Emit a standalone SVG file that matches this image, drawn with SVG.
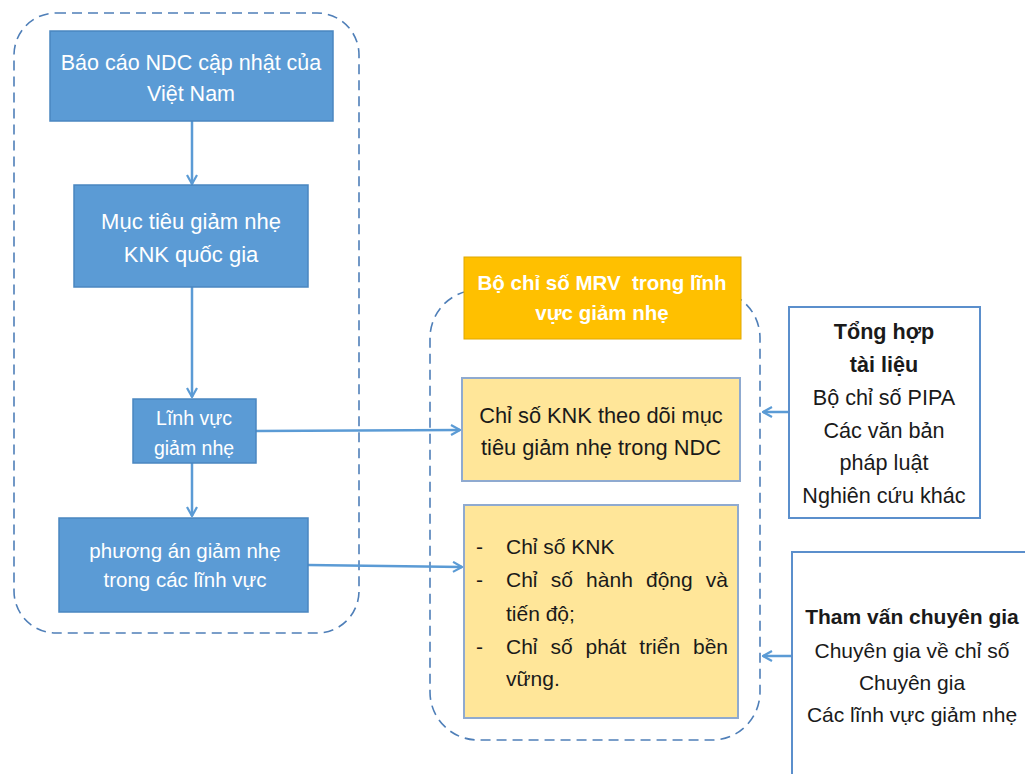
<svg xmlns="http://www.w3.org/2000/svg" width="1025" height="774" viewBox="0 0 1025 774">
  <style>
    text { font-family: "Liberation Sans", Arial, sans-serif; }
    .blue { fill: #5b9bd5; stroke: #4a86c0; stroke-width: 1.5; }
    .orange { fill: #ffc000; stroke: #e0a800; stroke-width: 1; }
    .yellow { fill: #ffe699; stroke: #8faad0; stroke-width: 2; }
    .src { fill: #ffffff; stroke: #5b8fcc; stroke-width: 2; }
    .group { fill: none; stroke: #4f7fb8; stroke-width: 1.6; stroke-dasharray: 10 6; }
    .wt { fill: #ffffff; text-anchor: middle; }
    .bt { fill: #1a1a1a; text-anchor: middle; }
    .conn { stroke: #5b9bd5; stroke-width: 2.5; fill: none; marker-end: url(#arr); }
  </style>
  <defs>
    <marker id="arr" viewBox="0 0 12 12" refX="11" refY="6" markerWidth="12" markerHeight="12" markerUnits="userSpaceOnUse" orient="auto">
      <polyline points="2,1 11,6 2,11" fill="none" stroke="#5b9bd5" stroke-width="2.2"/>
    </marker>
  </defs>

  <rect width="1025" height="774" fill="#ffffff"/>

  <!-- grouping frames -->
  <rect class="group" x="14" y="13" width="345" height="620" rx="42" ry="42"/>
  <rect class="group" x="430" y="290" width="330" height="450" rx="48" ry="48"/>

  <!-- connectors -->
  <g id="connectors">
    <line class="conn" x1="192" y1="121" x2="192" y2="184"/>
    <line class="conn" x1="192" y1="287" x2="192" y2="397"/>
    <line class="conn" x1="192" y1="463" x2="192" y2="516"/>
    <line class="conn" x1="256" y1="431" x2="460" y2="430"/>
    <line class="conn" x1="308" y1="565" x2="462" y2="567"/>
    <line class="conn" x1="789" y1="412" x2="763" y2="412"/>
    <line class="conn" x1="792" y1="656" x2="763" y2="656"/>
  </g>

  <g id="ndc-report">
    <rect class="blue" x="50" y="31" width="283" height="90"/>
    <text class="wt" font-size="21.5"><tspan x="191" y="70">Báo cáo NDC cập nhật của</tspan><tspan x="191" y="101">Việt Nam</tspan></text>
  </g>

  <g id="national-target">
    <rect class="blue" x="74" y="185" width="234" height="102"/>
    <text class="wt" font-size="22"><tspan x="191" y="229">Mục tiêu giảm nhẹ</tspan><tspan x="191" y="262">KNK quốc gia</tspan></text>
  </g>

  <g id="sector">
    <rect class="blue" x="133" y="399" width="123" height="64"/>
    <text class="wt" font-size="19.5"><tspan x="194" y="425">Lĩnh vực</tspan><tspan x="194" y="455">giảm nhẹ</tspan></text>
  </g>

  <g id="sector-options">
    <rect class="blue" x="59" y="518" width="249" height="94"/>
    <text class="wt" font-size="20.5"><tspan x="185" y="558">phương án giảm nhẹ</tspan><tspan x="185" y="587">trong các lĩnh vực</tspan></text>
  </g>

  <g id="mrv-title">
    <rect class="orange" x="464" y="257" width="277" height="82"/>
    <text class="wt" font-size="20.5" font-weight="bold" xml:space="preserve"><tspan x="602" y="290">Bộ chỉ số MRV  trong lĩnh</tspan><tspan x="602" y="320">vực giảm nhẹ</tspan></text>
  </g>

  <g id="ghg-target-indicators">
    <rect class="yellow" x="462" y="378" width="278" height="103"/>
    <text class="bt" font-size="21.8"><tspan x="601" y="423">Chỉ số KNK theo dõi mục</tspan><tspan x="601" y="455">tiêu giảm nhẹ trong NDC</tspan></text>
  </g>

  <g id="indicator-list">
    <rect class="yellow" x="464" y="505" width="274" height="213"/>
    <g fill="#1a1a1a" font-size="21">
      <text x="476" y="554">-</text>
      <text x="476" y="587">-</text>
      <text x="476" y="654">-</text>
      <text x="506" y="554">Chỉ số KNK</text>
      <!-- justified lines: words placed individually -->
      <text y="587"><tspan x="506">Chỉ</tspan><tspan x="550.7">số</tspan><tspan x="586.1">hành</tspan><tspan x="646">động</tspan></text>
      <text x="728" y="587" text-anchor="end">và</text>
      <text x="506" y="621">tiến độ;</text>
      <text y="654"><tspan x="506">Chỉ</tspan><tspan x="550.4">số</tspan><tspan x="585.5">phát</tspan><tspan x="639.3">triển</tspan></text>
      <text x="728" y="654" text-anchor="end">bền</text>
      <text x="506" y="686">vững.</text>
    </g>
  </g>

  <g id="literature">
    <rect class="src" x="789" y="307" width="191" height="211"/>
    <text class="bt" font-size="21.6"><tspan x="884" y="339" font-weight="bold">Tổng hợp</tspan><tspan x="884" y="372" font-weight="bold">tài liệu</tspan><tspan x="884" y="405">Bộ chỉ số PIPA</tspan><tspan x="884" y="438">Các văn bản</tspan><tspan x="884" y="470">pháp luật</tspan><tspan x="884" y="503">Nghiên cứu khác</tspan></text>
  </g>

  <g id="expert-consultation">
    <path class="src" d="M792 774 V552 H1026" fill="none"/>
    <text class="bt" font-size="21"><tspan x="912" y="624" font-weight="bold">Tham vấn chuyên gia</tspan><tspan x="912" y="658">Chuyên gia về chỉ số</tspan><tspan x="912" y="690">Chuyên gia</tspan><tspan x="912" y="722">Các lĩnh vực giảm nhẹ</tspan></text>
  </g>
</svg>
